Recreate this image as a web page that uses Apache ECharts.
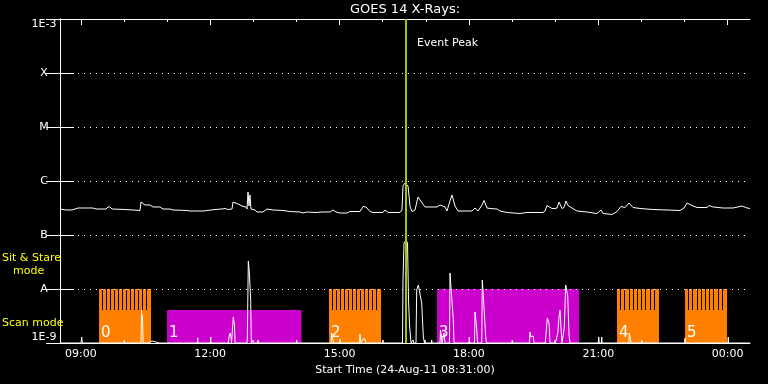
<!DOCTYPE html>
<html><head><meta charset="utf-8">
<script src="https://cdn.jsdelivr.net/npm/echarts@6/dist/echarts.min.js"></script>
<style>html,body{margin:0;padding:0;background:#000;}#c{width:768px;height:384px;}</style>
</head><body><div id="c"></div>
<script>
// ---- data (x = minutes since start 08:31, y = log10 of flux in W/m^2) ----
const startClock = '08:31';
const spanMinutes = 960;
const xTickMinutes = [29, 209, 389, 569, 749, 929];
const xTickLabels = ['09:00', '12:00', '15:00', '18:00', '21:00', '00:00'];
const hourTickMinutes = [29, 89, 149, 209, 269, 329, 389, 449, 509, 569, 629, 689, 749, 809, 869, 929];
const yTickLabels = ['1E-9', 'A', 'B', 'C', 'M', 'X', '1E-3'];

const fluxPoints = [
 [0,-6.519],[8.3,-6.537],[16.7,-6.537],[25.0,-6.500],[45.9,-6.500],[50.1,-6.519],[64.0,-6.519],[66.8,-6.481],
 [69.6,-6.481],[72.4,-6.519],[90.4,-6.528],[111.3,-6.546],[112.7,-6.389],[118.3,-6.444],[125.2,-6.444],[129.4,-6.481],
 [139.1,-6.481],[143.3,-6.519],[153.0,-6.519],[157.2,-6.537],[176.7,-6.546],[180.9,-6.556],[199.0,-6.556],[201.7,-6.519],
 [215.7,-6.528],[225.4,-6.519],[229.6,-6.509],[233.7,-6.528],[239.3,-6.519],[240.7,-6.389],[247.7,-6.426],[254.6,-6.472],
 [258.8,-6.481],[260.2,-6.519],[261.6,-6.204],[263.0,-6.463],[264.3,-6.259],[265.7,-6.519],[271.3,-6.537],[274.1,-6.574],
 [282.4,-6.574],[287.9,-6.519],[296.3,-6.537],[310.2,-6.546],[319.9,-6.565],[333.9,-6.574],[338.1,-6.593],[343.6,-6.574],
 [354.8,-6.583],[365.9,-6.574],[375.7,-6.574],[379.9,-6.537],[384.0,-6.574],[389.6,-6.593],[399.3,-6.593],[403.5,-6.565],
 [417.4,-6.565],[421.6,-6.472],[425.7,-6.481],[431.3,-6.565],[435.5,-6.583],[449.4,-6.583],[452.2,-6.537],[456.4,-6.583],
 [473.0,-6.583],[475.8,-6.537],[477.2,-6.093],[480.0,-6.037],[481.4,-6.056],[484.2,-6.093],[487.0,-6.472],[489.7,-6.565],
 [493.9,-6.537],[498.1,-6.296],[503.7,-6.407],[507.8,-6.481],[524.5,-6.481],[528.7,-6.444],[535.7,-6.481],[538.4,-6.556],
 [542.6,-6.370],[545.4,-6.259],[549.6,-6.463],[553.7,-6.556],[573.2,-6.556],[577.4,-6.500],[581.6,-6.556],[587.1,-6.444],
 [589.9,-6.361],[594.1,-6.500],[598.3,-6.509],[608.0,-6.519],[612.2,-6.556],[621.9,-6.583],[640.0,-6.602],[649.7,-6.583],
 [672.0,-6.583],[674.8,-6.556],[677.6,-6.454],[684.5,-6.509],[688.7,-6.509],[691.5,-6.500],[694.3,-6.389],[698.4,-6.509],
 [701.2,-6.491],[704.0,-6.370],[706.8,-6.454],[712.3,-6.500],[719.3,-6.556],[733.2,-6.574],[747.1,-6.602],[752.7,-6.537],
 [755.5,-6.602],[768.0,-6.620],[775.0,-6.565],[780.5,-6.472],[786.1,-6.491],[791.7,-6.407],[797.2,-6.491],[807.0,-6.509],
 [825.1,-6.528],[844.5,-6.537],[862.6,-6.546],[868.2,-6.500],[872.4,-6.407],[879.3,-6.454],[886.3,-6.491],[900.2,-6.491],
 [903.0,-6.454],[908.5,-6.481],[922.5,-6.500],[936.4,-6.500],[948.9,-6.463],[955.9,-6.500],[960.0,-6.509]
];

const spikePoints = [
 [0,-9],
 [29.2,-9],[30.2,-8.889],[31.0,-9],
 [89.0,-9],[89.5,-8.944],[90.0,-9],
 [112.7,-9],[113.4,-8.389],[114.1,-8.537],[114.8,-8.481],[115.5,-9],
 [122.4,-9],[123.1,-8.963],[128.0,-8.963],[128.7,-9],
 [138.7,-9],[139.1,-8.963],[139.5,-9],
 [191.0,-9],[191.6,-8.907],[192.0,-9],
 [209.1,-9],[209.7,-8.889],[210.1,-9],
 [230.0,-9],[230.5,-8.963],[231.0,-9],
 [234.4,-9],[235.1,-8.889],[236.5,-8.815],[237.9,-8.889],[238.6,-9],
 [240.7,-9],[241.1,-8.519],[242.8,-8.667],[243.5,-9],
 [252.2,-9],[252.8,-8.963],[253.2,-9],
 [259.9,-9],[260.6,-8.926],[262.0,-7.481],[263.4,-7.685],[265.3,-8.204],[266.2,-9],
 [268.0,-9],[268.6,-8.944],[269.1,-9],
 [274.9,-9],[275.5,-8.944],[276.0,-9],
 [280.1,-9],[280.6,-8.963],[281.1,-9],
 [328.7,-9],[329.3,-8.944],[329.9,-9],
 [377.3,-9],[378.0,-8.815],[379.1,-8.9],[379.8,-8.889],[380.5,-9],
 [389.0,-9],[389.6,-8.926],[390.1,-9],
 [416.8,-9],[417.4,-8.833],[418.8,-9],
 [421.0,-9],[421.6,-8.926],[424.4,-8.926],[424.9,-9],
 [448.8,-9],[449.4,-8.944],[449.9,-9],
 [476.5,-9],[477.2,-7.833],[478.6,-7.148],[481.4,-7.093],[483.5,-7.148],[484.9,-8.204],[486.3,-8.667],[488.4,-9],
 [490.8,-9],[491.4,-8.944],[491.9,-9],
 [495.3,-9],[496.3,-8.019],[498.5,-7.926],[500.9,-7.963],[503.2,-8.259],[505.5,-8.889],[507.1,-9],[507.8,-8.944],[508.4,-9],
 [516.6,-9],[517.1,-8.944],[517.7,-9],
 [528.7,-9],[529.4,-8.759],[531.5,-9],[534.3,-8.815],[535.7,-9],
 [541.9,-9],[542.6,-7.704],[545.0,-7.685],[547.2,-8.574],[548.2,-9],
 [568.9,-9],[569.5,-8.889],[570.0,-9],
 [576.7,-9],[577.4,-8.426],[579.7,-8.722],[580.9,-9],
 [586.8,-9],[587.5,-7.833],[589.9,-8.333],[592.3,-8.889],[593.4,-9],
 [628.7,-9],[629.3,-8.944],[629.8,-9],
 [653.2,-9],[653.9,-8.796],[655.3,-8.889],[657.4,-8.870],[658.5,-8.870],[659.5,-9],
 [675.1,-9],[675.8,-8.889],[678.0,-8.537],[680.4,-8.630],[681.7,-9],
 [688.1,-9],[688.7,-8.944],[689.2,-9],
 [691.8,-9],[692.5,-8.815],[694.3,-8.519],[695.7,-8.389],[697.1,-8.722],[698.4,-9],
 [700.9,-9],[701.6,-8.722],[703.6,-7.926],[705.0,-7.963],[706.4,-8.130],[708.2,-8.852],[709.6,-9],
 [711.4,-9],[712.0,-8.963],[712.5,-9],
 [748.9,-9],[749.5,-8.889],[750.3,-9],
 [753.1,-9],[753.7,-8.889],[754.2,-9],
 [791.5,-9],[792.1,-8.815],[794.0,-8.852],[794.6,-9],
 [808.7,-9],[809.3,-8.944],[809.8,-9],
 [869.0,-9],[869.6,-8.907],[870.1,-9],
 [929.2,-9],[929.8,-8.889],[930.3,-9],
 [936.3,-9],[936.8,-8.981],[937.3,-9],
 [954.9,-9],[955.4,-8.981],[955.9,-9],
 [960,-9]
];

// observation blocks
const blockStart = [54.3, 148.9, 374.3, 524.5, 774.9, 869.6];
const blockEnd   = [126.6, 336.0, 446.7, 722.1, 833.4, 928.1];
const blockTop   = [-8, -8.389, -8, -8, -8, -8];
const blockKind  = ['stare', 'scan', 'stare', 'scan', 'stare', 'stare'];
const blockTeeth = [13, 0, 13, 0, 10, 10];
const blockLabel = ['0', '1', '2', '3', '4', '5'];
const scanLevel = -8.389;
const sitLevel = -8;
const eventPeakMinute = 481.4;

// ---- chart ----
const WHITE = '#ffffff', ORANGE = '#ff8000', MAGENTA = '#cc00cc', GREEN = '#99cc00', YELLOW = '#ffff00';
const FONT = 'DejaVu Sans';
const chart = echarts.init(document.getElementById('c'), null, {renderer: 'canvas'});

function renderBlock(params, api) {
  const i = params.dataIndex;
  const pb = api.coord([api.value(0), -9]);
  const pt = api.coord([api.value(1), api.value(2)]);
  const ps = api.coord([api.value(0), scanLevel]);
  const x0 = pb[0], x1 = pt[0], yb = pb[1], yt = pt[1];
  const fill = blockKind[i] === 'stare' ? ORANGE : MAGENTA;
  const children = [{type: 'rect', shape: {x: x0, y: yt, width: x1 - x0, height: yb - yt}, style: {fill: fill}}];
  const n = blockTeeth[i];
  if (n > 1) {
    const sp = (x1 - x0) / n;
    for (let k = 1; k < n; k++) {
      children.push({type: 'rect', shape: {x: Math.round(x0 + k * sp) - 1, y: Math.round(yt), width: 1, height: Math.round(ps[1] - yt)}, style: {fill: '#000'}});
    }
  }
  children.push({type: 'text', style: {text: blockLabel[i], x: x0 + 2, y: yb - 10, fill: WHITE,
    font: '15px "' + FONT + '"', align: 'left', verticalAlign: 'middle', textAlign: 'left', textVerticalAlign: 'middle'}});
  return {type: 'group', children: children};
}

const blockData = blockStart.map((s, i) => [s, blockEnd[i], blockTop[i]]);

const option = {
  backgroundColor: '#000',
  animation: false,
  grid: {left: 60, right: 18, top: 19, bottom: 41, containLabel: false},
  xAxis: [
    {type: 'value', position: 'bottom', min: 0, max: spanMinutes,
     axisLine: {show: true, lineStyle: {color: WHITE, width: 1}},
     axisTick: {show: false}, splitLine: {show: false},
     axisLabel: {customValues: xTickMinutes, color: WHITE, fontFamily: FONT, fontSize: 11, margin: 6,
       formatter: v => xTickLabels[xTickMinutes.indexOf(v)]},
     name: 'Start Time (24-Aug-11 ' + startClock + ':00)', nameLocation: 'middle', nameGap: 19,
     nameTextStyle: {color: WHITE, fontFamily: FONT, fontSize: 11}},
    {type: 'value', position: 'top', min: 0, max: spanMinutes,
     axisLine: {show: true, lineStyle: {color: WHITE, width: 1}},
     axisTick: {show: true, inside: true, length: 3, customValues: hourTickMinutes, lineStyle: {color: WHITE}},
     axisLabel: {show: false}, splitLine: {show: false}},
    {type: 'value', position: 'top', min: 0, max: spanMinutes,
     axisLine: {show: false},
     axisTick: {show: true, inside: true, length: 6, customValues: xTickMinutes, lineStyle: {color: WHITE}},
     axisLabel: {show: false}, splitLine: {show: false}}
  ],
  yAxis: [
    {type: 'value', min: -9, max: -3, interval: 1, position: 'left',
     axisLine: {show: true, lineStyle: {color: WHITE, width: 1}},
     axisTick: {show: true, inside: true, length: 14, lineStyle: {color: WHITE}},
     axisLabel: {color: WHITE, fontFamily: FONT, fontSize: 11, margin: 16, align: 'center',
       verticalAlignMinLabel: 'bottom', verticalAlignMaxLabel: 'top',
       formatter: v => yTickLabels[Math.round(v + 9)]},
     splitLine: {show: true, lineStyle: {color: WHITE, width: 1, type: [1, 5]}}},
    {type: 'value', min: -9, max: -3, interval: 1, position: 'right',
     axisLine: {show: true, lineStyle: {color: WHITE, width: 1}},
     axisTick: {show: true, inside: true, length: 14, lineStyle: {color: WHITE}},
     axisLabel: {show: false}, splitLine: {show: false}}
  ],
  series: [
    {type: 'custom', name: 'blocks', xAxisIndex: 0, yAxisIndex: 0, renderItem: renderBlock,
     data: blockData, encode: {x: [0, 1], y: 2}, z: 1, silent: true,
     markLine: {silent: true, symbol: 'none', label: {show: false}, z: 2,
       lineStyle: {color: WHITE, width: 1, type: [1, 5]}, data: [{yAxis: sitLevel}]}},
    {type: 'line', name: 'spikes', xAxisIndex: 0, yAxisIndex: 0, data: spikePoints,
     showSymbol: false, symbol: 'none', lineStyle: {color: WHITE, width: 1}, z: 3, silent: true},
    {type: 'line', name: 'GOES 14', xAxisIndex: 0, yAxisIndex: 0, data: fluxPoints,
     showSymbol: false, symbol: 'none', lineStyle: {color: WHITE, width: 1}, z: 4, silent: true,
     markLine: {silent: true, symbol: 'none', label: {show: false}, z: 6,
       lineStyle: {color: GREEN, width: 2, type: 'solid'},
       data: [{xAxis: eventPeakMinute}]}}
  ]
};
chart.setOption(option);

const peakX = chart.convertToPixel({xAxisIndex: 0}, eventPeakMinute);
function txt(text, x, y, color, size, align) {
  return {type: 'text', silent: true, z: 10, style: {text: text, x: x, y: y, fill: color,
    font: size + 'px "' + FONT + '"', align: align, verticalAlign: 'middle', textAlign: align, textVerticalAlign: 'middle'}};
}
chart.setOption({graphic: [
  txt('GOES 14 X-Rays:', 405, 10, WHITE, 13, 'center'),
  txt('Event Peak', peakX + 11, 43, WHITE, 11, 'left'),
  txt('Sit & Stare', 2, 258, YELLOW, 11, 'left'),
  txt('mode', 13, 271, YELLOW, 11, 'left'),
  txt('Scan mode', 2, 323, YELLOW, 11, 'left')
]});
</script></body></html>
